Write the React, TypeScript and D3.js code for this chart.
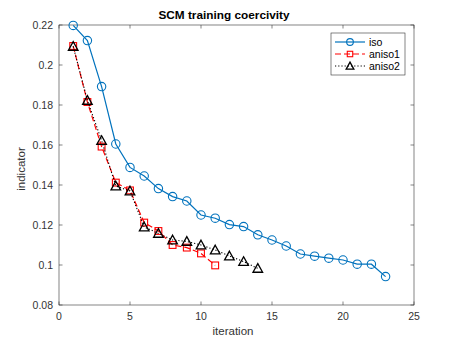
import React from "react";
import * as d3 from "d3";

const isoX = d3.range(1, 24);
const isoY = [0.2198, 0.2122, 0.1892, 0.1605, 0.1488, 0.1445, 0.1382, 0.1342, 0.132, 0.125, 0.1234, 0.1202, 0.1192, 0.1151, 0.1125, 0.1095, 0.1055, 0.1044, 0.1034, 0.1025, 0.1004, 0.1004, 0.0942];
const aniso1X = d3.range(1, 12);
const aniso1Y = [0.2095, 0.1815, 0.1592, 0.1412, 0.1373, 0.1212, 0.117, 0.11, 0.1087, 0.1058, 0.0998];
const aniso2X = d3.range(1, 15);
const aniso2Y = [0.2093, 0.1823, 0.1622, 0.1395, 0.137, 0.119, 0.1158, 0.1125, 0.1118, 0.11, 0.1075, 0.1045, 0.1017, 0.0983];
const xTicks = [0, 5, 10, 15, 20, 25];
const yTicks = [0.08, 0.1, 0.12, 0.14, 0.16, 0.18, 0.2, 0.22];

const W = 458;
const H = 343;
const margin = { left: 59, right: 44, top: 25, bottom: 38 };
const axisColor = "#333";
const font = "'Liberation Sans', Arial, sans-serif";

type Pt = [number, number];

function Marker({ kind, x, y, small }: { kind: string; x: number; y: number; small?: boolean }) {
  const k = small ? 0.8 : 1;
  if (kind === "circle")
    return <circle cx={x} cy={y} r={4.2 * k} fill="none" stroke="#0072BD" strokeWidth={1.1} />;
  if (kind === "square")
    return <rect x={x - 3.4 * k} y={y - 3.4 * k} width={6.8 * k} height={6.8 * k} fill="none" stroke="#FF0000" strokeWidth={1.1} />;
  const s = 4.8 * k;
  return (
    <path
      d={`M${x},${y - s} L${x + s},${y + s * 0.8} L${x - s},${y + s * 0.8} Z`}
      fill="none"
      stroke="#000"
      strokeWidth={1.3}
    />
  );
}

export default function App() {
  const x = d3.scaleLinear().domain([0, 25]).range([margin.left, W - margin.right]);
  const y = d3.scaleLinear().domain([0.08, 0.22]).range([H - margin.bottom, margin.top]);
  const line = d3.line<Pt>().x(d => x(d[0])).y(d => y(d[1]));

  const series = [
    { name: "iso", xs: isoX, ys: isoY, color: "#0072BD", dash: "none", marker: "circle", width: 1.2 },
    { name: "aniso1", xs: aniso1X, ys: aniso1Y, color: "#FF0000", dash: "6,3", marker: "square", width: 1.2 },
    { name: "aniso2", xs: aniso2X, ys: aniso2Y, color: "#000", dash: "1.2,2", marker: "triangle", width: 1.1 },
  ];

  const [x0, x1] = x.range();
  const [y0, y1] = y.range();

  return (
    <svg width={W} height={H} style={{ position: "absolute", left: 0, top: 0 }} fontFamily={font}>
      <rect width={W} height={H} fill="#fff" />
      {/* axes box */}
      <rect x={x0} y={y1} width={x1 - x0} height={y0 - y1} fill="none" stroke={axisColor} strokeWidth={0.6} />
      {xTicks.map(t => (
        <g key={"x" + t}>
          <line x1={x(t)} x2={x(t)} y1={y0} y2={y0 - 3.5} stroke={axisColor} strokeWidth={0.6} />
          <line x1={x(t)} x2={x(t)} y1={y1} y2={y1 + 3.5} stroke={axisColor} strokeWidth={0.6} />
          <text x={x(t)} y={y0 + 15} fontSize={10.5} textAnchor="middle" fill={axisColor}>{t}</text>
        </g>
      ))}
      {yTicks.map(t => (
        <g key={"y" + t}>
          <line x1={x0} x2={x0 + 3.5} y1={y(t)} y2={y(t)} stroke={axisColor} strokeWidth={0.6} />
          <line x1={x1} x2={x1 - 3.5} y1={y(t)} y2={y(t)} stroke={axisColor} strokeWidth={0.6} />
          <text x={x0 - 6} y={y(t) + 3.8} fontSize={10.5} textAnchor="end" fill={axisColor}>
            {d3.format("~g")(+t.toFixed(2))}
          </text>
        </g>
      ))}
      <text x={233} y={H - 8} fontSize={11.5} textAnchor="middle" fill={axisColor}>iteration</text>
      <text transform={`translate(25,169) rotate(-90)`} fontSize={11.5} textAnchor="middle" fill={axisColor}>indicator</text>
      <text x={224} y={19} fontSize={11.8} fontWeight="bold" textAnchor="middle" fill="#000">SCM training coercivity</text>

      {series.map(s => {
        const pts: Pt[] = s.xs.map((v, i) => [v, s.ys[i]]);
        return (
          <g key={s.name}>
            <path d={line(pts) || ""} fill="none" stroke={s.color} strokeWidth={s.width} strokeDasharray={s.dash} />
            {pts.map((p, i) => <Marker key={i} kind={s.marker} x={x(p[0])} y={y(p[1])} />)}
          </g>
        );
      })}

      {/* legend */}
      <g>
        <rect x={331} y={33} width={74} height={42} fill="#fff" stroke={axisColor} strokeWidth={0.6} />
        {series.map((s, i) => {
          const ly = 42 + i * 12;
          return (
            <g key={s.name}>
              <line x1={335} x2={365} y1={ly} y2={ly} stroke={s.color} strokeWidth={s.width} strokeDasharray={s.dash} />
              <Marker kind={s.marker} x={350} y={ly} small />
              <text x={369} y={ly + 3.7} fontSize={10.5} fill="#000">{s.name}</text>
            </g>
          );
        })}
      </g>
    </svg>
  );
}
